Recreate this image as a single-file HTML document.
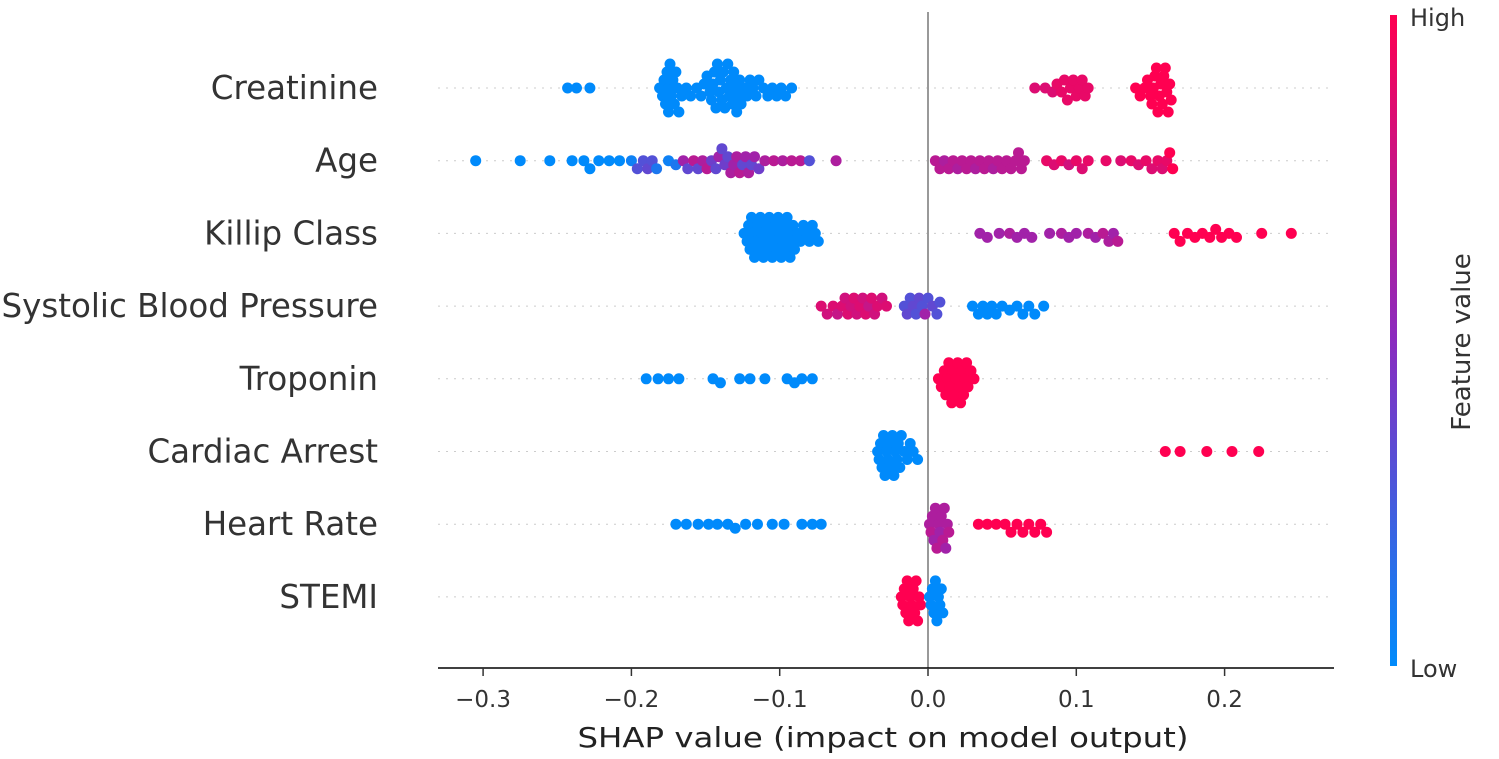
<!DOCTYPE html>
<html><head><meta charset="utf-8"><style>
body{margin:0;background:#fff}
svg{display:block;font-family:"DejaVu Sans","Liberation Sans",sans-serif}
</style></head><body>
<svg id="chart" width="1499" height="759" viewBox="0 0 1499 759" xmlns="http://www.w3.org/2000/svg">
<defs><linearGradient id="cbg" x1="0" y1="1" x2="0" y2="0">
<stop offset="0" stop-color="#008bfb"/><stop offset="0.5" stop-color="#8a2bbf"/><stop offset="1" stop-color="#ff0051"/>
</linearGradient></defs>
<g id="grid"></g>
<line x1="928" y1="12" x2="928" y2="668" stroke="#999" stroke-width="2"/>
<g id="dots"></g>
<g id="labels"></g>
<line x1="438" y1="668" x2="1334" y2="668" stroke="#000" stroke-width="1.5"/>
<g id="xticks"></g>
<text x="883" y="747" font-size="28" text-anchor="middle" textLength="611" lengthAdjust="spacingAndGlyphs" fill="#222">SHAP value (impact on model output)</text>
<rect x="1390" y="15" width="7" height="651" fill="url(#cbg)"/>
<text x="1410" y="26" font-size="24" fill="#333">High</text>
<text x="1410" y="677" font-size="24" fill="#333">Low</text>
<text transform="translate(1470,342) rotate(-90)" font-size="26" text-anchor="middle" fill="#333">Feature value</text>
</svg>
<script>
const features=["Creatinine","Age","Killip Class","Systolic Blood Pressure","Troponin","Cardiac Arrest","Heart Rate","STEMI"];
const xTicks=[-0.3,-0.2,-0.1,0.0,0.1,0.2];
const xTickLabels=["\u22120.3","\u22120.2","\u22120.1","0.0","0.1","0.2"];
const creatininePts=[[-0.243,0],[-0.237,0],[-0.228,0],[-0.181,0],[-0.179,0],[-0.178,0],[-0.177,0],[-0.176,0],[-0.175,0],[-0.175,0],[-0.174,0],[-0.173,0],[-0.172,0],[-0.171,0],[-0.17,0],[-0.169,0],[-0.168,0],[-0.166,0],[-0.163,0],[-0.16,0],[-0.156,0],[-0.153,0],[-0.151,0],[-0.149,0],[-0.147,0],[-0.146,0],[-0.145,0],[-0.144,0],[-0.143,0],[-0.142,0],[-0.141,0],[-0.14,0],[-0.139,0],[-0.138,0],[-0.137,0],[-0.136,0],[-0.135,0],[-0.134,0],[-0.133,0],[-0.132,0],[-0.131,0],[-0.13,0],[-0.129,0],[-0.128,0],[-0.127,0],[-0.126,0],[-0.124,0],[-0.122,0],[-0.12,0],[-0.118,0],[-0.116,0],[-0.114,0],[-0.111,0],[-0.108,0],[-0.105,0],[-0.102,0],[-0.099,0],[-0.096,0],[-0.092,0],[0.072,0.85],[0.079,0.85],[0.084,0.85],[0.087,0.9],[0.09,0.9],[0.092,0.9],[0.094,0.9],[0.096,0.9],[0.098,0.9],[0.1,0.9],[0.102,0.9],[0.104,0.9],[0.106,0.9],[0.108,0.9],[0.14,1],[0.143,1],[0.146,1],[0.148,1],[0.15,1],[0.151,1],[0.152,1],[0.153,1],[0.154,1],[0.155,1],[0.156,1],[0.157,1],[0.158,1],[0.159,1],[0.16,1],[0.161,1],[0.162,1],[0.163,1],[0.164,1]];
const agePts=[[-0.305,0],[-0.275,0],[-0.255,0],[-0.24,0],[-0.232,0],[-0.228,0],[-0.222,0],[-0.215,0],[-0.208,0],[-0.2,0.05],[-0.196,0.3],[-0.192,0.3],[-0.189,0.35],[-0.186,0.3],[-0.183,0.1],[-0.175,0.05],[-0.17,0.1],[-0.165,0.6],[-0.162,0.35],[-0.158,0.7],[-0.155,0.35],[-0.152,0.65],[-0.149,0.7],[-0.146,0.4],[-0.143,0.35],[-0.141,0.6],[-0.139,0.35],[-0.137,0.4],[-0.135,0.35],[-0.133,0.65],[-0.131,0.6],[-0.129,0.65],[-0.127,0.7],[-0.125,0.35],[-0.123,0.6],[-0.121,0.65],[-0.119,0.35],[-0.117,0.6],[-0.114,0.4],[-0.11,0.65],[-0.104,0.7],[-0.098,0.65],[-0.092,0.7],[-0.086,0.7],[-0.08,0.3],[-0.062,0.65],[0.005,0.7],[0.008,0.7],[0.011,0.65],[0.014,0.7],[0.017,0.7],[0.02,0.65],[0.023,0.7],[0.026,0.7],[0.029,0.7],[0.032,0.65],[0.035,0.7],[0.038,0.7],[0.041,0.7],[0.044,0.65],[0.047,0.7],[0.05,0.7],[0.053,0.7],[0.056,0.7],[0.059,0.7],[0.061,0.7],[0.063,0.7],[0.065,0.7],[0.08,0.9],[0.085,0.85],[0.09,0.9],[0.095,0.8],[0.1,0.9],[0.104,0.85],[0.108,0.9],[0.12,0.9],[0.13,0.85],[0.137,0.9],[0.142,0.85],[0.147,0.9],[0.151,0.85],[0.155,0.9],[0.158,0.85],[0.161,0.9],[0.163,1],[0.165,1]];
const killipPts=[[-0.124,0],[-0.122,0],[-0.121,0],[-0.12,0],[-0.119,0],[-0.118,0],[-0.117,0],[-0.116,0],[-0.115,0],[-0.114,0],[-0.113,0],[-0.112,0],[-0.111,0],[-0.11,0],[-0.109,0],[-0.108,0],[-0.107,0],[-0.106,0],[-0.105,0],[-0.104,0],[-0.103,0],[-0.102,0],[-0.101,0],[-0.1,0],[-0.099,0],[-0.098,0],[-0.097,0],[-0.096,0],[-0.095,0],[-0.094,0],[-0.093,0],[-0.092,0],[-0.091,0],[-0.09,0],[-0.088,0],[-0.086,0],[-0.084,0],[-0.082,0],[-0.08,0],[-0.078,0],[-0.076,0],[-0.074,0],[0.035,0.6],[0.04,0.6],[0.048,0.6],[0.055,0.65],[0.06,0.6],[0.065,0.6],[0.07,0.6],[0.082,0.6],[0.09,0.65],[0.095,0.6],[0.1,0.6],[0.108,0.65],[0.113,0.6],[0.118,0.7],[0.122,0.65],[0.125,0.6],[0.128,0.7],[0.166,1],[0.17,1],[0.175,1],[0.18,1],[0.185,1],[0.19,1],[0.194,1],[0.198,1],[0.203,1],[0.208,1],[0.225,1],[0.245,1]];
const sbpPts=[[-0.072,0.85],[-0.068,0.8],[-0.064,0.85],[-0.061,0.75],[-0.058,0.85],[-0.056,0.8],[-0.054,0.85],[-0.052,0.8],[-0.05,0.85],[-0.048,0.8],[-0.046,0.85],[-0.044,0.8],[-0.042,0.85],[-0.04,0.75],[-0.038,0.85],[-0.036,0.8],[-0.034,0.85],[-0.031,0.8],[-0.028,0.85],[-0.016,0.3],[-0.014,0.35],[-0.012,0.3],[-0.01,0.35],[-0.008,0.3],[-0.006,0.35],[-0.004,0.3],[-0.002,0.6],[0.0,0.3],[0.003,0.35],[0.006,0.3],[0.008,0.3],[0.03,0],[0.034,0],[0.037,0],[0.04,0],[0.043,0],[0.046,0],[0.05,0],[0.055,0],[0.06,0],[0.064,0],[0.068,0],[0.072,0],[0.078,0]];
const troponinPts=[[-0.19,0],[-0.182,0],[-0.175,0],[-0.168,0],[-0.145,0],[-0.14,0],[-0.127,0],[-0.12,0],[-0.11,0],[-0.095,0],[-0.09,0],[-0.085,0],[-0.078,0],[0.007,1],[0.009,1],[0.011,1],[0.012,1],[0.013,1],[0.014,1],[0.015,1],[0.016,1],[0.017,1],[0.018,1],[0.019,1],[0.02,1],[0.021,1],[0.022,1],[0.023,1],[0.024,1],[0.025,1],[0.026,1],[0.027,1],[0.029,1],[0.031,1]];
const cardiacPts=[[-0.034,0],[-0.033,0],[-0.032,0],[-0.031,0],[-0.03,0],[-0.029,0],[-0.028,0],[-0.027,0],[-0.026,0],[-0.025,0],[-0.024,0],[-0.023,0],[-0.022,0],[-0.021,0],[-0.02,0],[-0.019,0],[-0.018,0],[-0.016,0],[-0.014,0],[-0.012,0],[-0.01,0],[-0.007,0],[0.16,1],[0.17,1],[0.188,1],[0.205,1],[0.223,1]];
const hrPts=[[-0.17,0],[-0.163,0],[-0.155,0],[-0.148,0],[-0.142,0],[-0.135,0],[-0.13,0],[-0.123,0],[-0.115,0],[-0.105,0],[-0.097,0],[-0.085,0],[-0.078,0],[-0.072,0],[0.001,0.65],[0.002,0.7],[0.003,0.65],[0.004,0.6],[0.005,0.65],[0.006,0.7],[0.007,0.65],[0.008,0.6],[0.009,0.65],[0.01,0.7],[0.011,0.65],[0.012,0.6],[0.013,0.65],[0.014,0.7],[0.034,1],[0.04,1],[0.046,1],[0.052,1],[0.056,1],[0.06,1],[0.064,1],[0.068,1],[0.072,1],[0.076,1],[0.08,1]];
const stemiPts=[[-0.018,1],[-0.017,1],[-0.016,1],[-0.015,1],[-0.014,1],[-0.013,1],[-0.012,1],[-0.011,1],[-0.01,1],[-0.009,1],[-0.008,1],[-0.007,1],[-0.006,1],[-0.005,1],[0.001,0],[0.002,0],[0.003,0],[0.004,0],[0.005,0],[0.006,0],[0.007,0],[0.008,0],[0.009,0],[0.01,0]];
const allRows=[creatininePts,agePts,killipPts,sbpPts,troponinPts,cardiacPts,hrPts,stemiPts];

const NS="http://www.w3.org/2000/svg";
function xScale(v){return 928+v*1483;}
function yRow(i){return 88+i*72.7;}
function lerp(a,b,t){return Math.round(a+(b-a)*t);}
function colorOf(f){
  const s=[[0,138,251],[138,43,191],[255,0,81]];
  let a,b,t; if(f<0.5){a=s[0];b=s[1];t=f/0.5;}else{a=s[1];b=s[2];t=(f-0.5)/0.5;}
  return `rgb(${lerp(a[0],b[0],t)},${lerp(a[1],b[1],t)},${lerp(a[2],b[2],t)})`;
}
const grid=document.getElementById('grid'),dots=document.getElementById('dots'),labels=document.getElementById('labels'),xt=document.getElementById('xticks');
features.forEach((name,i)=>{
  const y=yRow(i);
  const l=document.createElementNS(NS,'line');
  
  
  l.setAttribute('x1',438);l.setAttribute('x2',1334);l.setAttribute('y1',y);l.setAttribute('y2',y);
  l.setAttribute('stroke','#ccc');l.setAttribute('stroke-dasharray','2,6');
  grid.appendChild(l);
  const t=document.createElementNS(NS,'text');
  
  
  t.setAttribute('x',378);t.setAttribute('y',y+11);t.setAttribute('text-anchor','end');
  t.setAttribute('font-size','32.5');t.setAttribute('fill','#333');t.textContent=name;
  labels.appendChild(t);
  const pts=allRows[i].map(p=>({x:xScale(p[0]),f:p[1]})).sort((a,b)=>a.x-b.x);
  const placed=[];
  pts.forEach(p=>{
    let off=0;
    for(let k=0;k<40;k++){
      const o=(k%2?1:-1)*Math.ceil(k/2)*4;
      if(Math.abs(o)>30){off=0;break;}
      if(placed.every(q=>Math.hypot(q.x-p.x,q.y-o)>=7.8)){off=o;break;}
    }
    placed.push({x:p.x,y:off});
    const c=document.createElementNS(NS,'circle');
    
    
    c.setAttribute('cx',p.x.toFixed(1));c.setAttribute('cy',(y+off).toFixed(1));c.setAttribute('r',5.5);
    c.setAttribute('fill',colorOf(p.f));
    dots.appendChild(c);
  });
});
xTicks.forEach((v,i)=>{
  const x=xScale(v);
  const l=document.createElementNS(NS,'line');
  
  
  l.setAttribute('x1',x);l.setAttribute('x2',x);l.setAttribute('y1',668);l.setAttribute('y2',676);l.setAttribute('stroke','#333');l.setAttribute('stroke-width','1.5');
  xt.appendChild(l);
  const t=document.createElementNS(NS,'text');
  
  
  t.setAttribute('x',x);t.setAttribute('y',707);t.setAttribute('text-anchor','middle');t.setAttribute('font-size','23');t.setAttribute('fill','#333');
  t.textContent=xTickLabels[i];
  xt.appendChild(t);
});
</script>
</body></html>
